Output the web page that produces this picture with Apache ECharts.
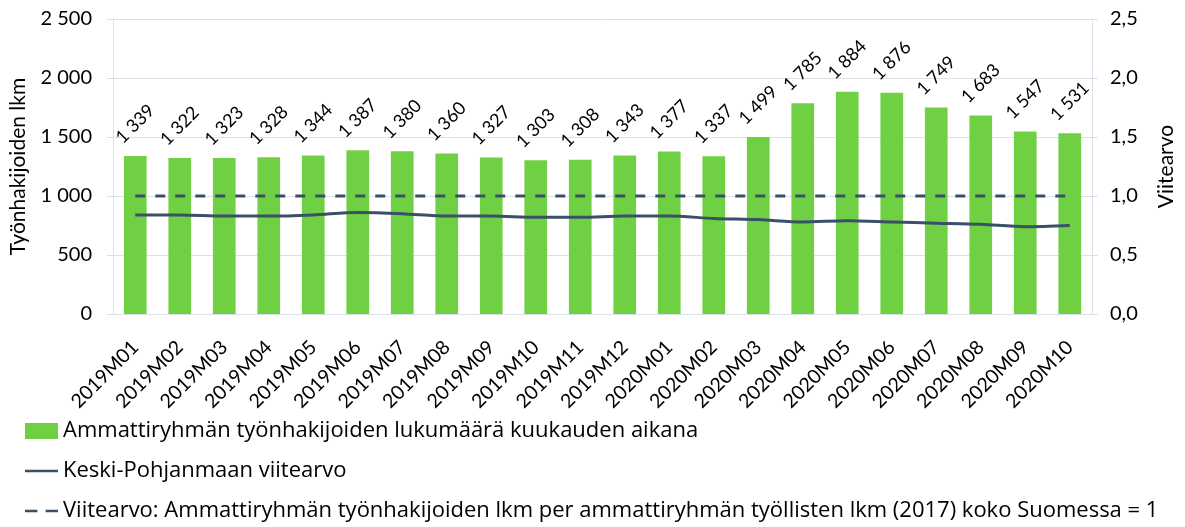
<!DOCTYPE html>
<html>
<head>
<meta charset="utf-8">
<script src="https://cdn.jsdelivr.net/npm/echarts@6/dist/echarts.min.js"></script>
<style>
  html, body { margin: 0; padding: 0; background: #fff; }
  #chart { width: 1185px; height: 527px; }
</style>
</head>
<body>
<div id="chart"></div>
<script>
var months = ['2019M01', '2019M02', '2019M03', '2019M04', '2019M05', '2019M06', '2019M07', '2019M08',
    '2019M09', '2019M10', '2019M11', '2019M12', '2020M01', '2020M02', '2020M03', '2020M04',
    '2020M05', '2020M06', '2020M07', '2020M08', '2020M09', '2020M10'];
var jobSeekers = [1339, 1322, 1323, 1328, 1344, 1387, 1380, 1360, 1327, 1303, 1308, 1343,
    1377, 1337, 1499, 1785, 1884, 1876, 1749, 1683, 1547, 1531];
var regionRef = [0.84, 0.84, 0.83, 0.83, 0.84, 0.86, 0.85, 0.83, 0.83, 0.82, 0.82, 0.83,
    0.83, 0.81, 0.80, 0.78, 0.79, 0.78, 0.77, 0.76, 0.74, 0.75];
var nationalRef = months.map(function () { return 1; });

var names = {
    bar: 'Ammattiryhmän työnhakijoiden lukumäärä kuukauden aikana',
    region: 'Keski-Pohjanmaan viitearvo',
    national: 'Viitearvo: Ammattiryhmän työnhakijoiden lkm per ammattiryhmän työllisten lkm (2017) koko Suomessa = 1'
};

var font = 'Lato';
var legendFont = 'Open Sans';
var green = '#70d044';
var navy = '#3a5068';
var gridColor = '#d9e1ea';

var fmtThousands = function (v) {
    return String(v).replace(/\B(?=(\d{3})+(?!\d))/g, ' ');
};

var myChart = echarts.init(document.getElementById('chart'));
var option = {
    animation: false,
    textStyle: { fontFamily: font, color: '#000' },
    grid: { left: 110, right: 85, top: 19, bottom: 213 },
    legend: {
        orient: 'vertical',
        left: 25,
        top: 419,
        padding: 0,
        itemGap: 16,
        itemWidth: 33,
        itemHeight: 16,
        textStyle: { fontFamily: legendFont, fontSize: 22, lineHeight: 24, color: '#000' },
        data: [
            { name: names.bar, icon: 'path://M0,0h33v16h-33z', itemStyle: { color: green } },
            { name: names.region, icon: 'path://M0,0h33v2.6h-33z', itemStyle: { color: navy } },
            { name: names.national, icon: 'path://M0,0h12v2.6h-12z M20,0h12v2.6h-12z', itemStyle: { color: navy } }
        ]
    },
    xAxis: {
        type: 'category',
        data: months,
        axisLine: { lineStyle: { color: gridColor, width: 1 } },
        axisTick: { show: false },
        axisLabel: { rotate: 45, fontSize: 19.5, color: '#000', fontFamily: font, margin: 30 }
    },
    yAxis: [
        {
            type: 'value',
            min: 0, max: 2500, interval: 500,
            name: 'Työnhakijoiden lkm',
            nameLocation: 'middle',
            nameGap: 84,
            nameTextStyle: { fontSize: 21, color: '#000', fontFamily: font },
            axisLine: { show: true, lineStyle: { color: gridColor } },
            axisTick: { show: true, length: 6, lineStyle: { color: gridColor } },
            splitLine: { lineStyle: { color: gridColor } },
            axisLabel: { fontSize: 20, color: '#000', margin: 21, formatter: fmtThousands }
        },
        {
            type: 'value',
            min: 0, max: 2.5, interval: 0.5,
            name: 'Viitearvo',
            nameLocation: 'middle',
            nameGap: 64,
            nameTextStyle: { fontSize: 21, color: '#000', fontFamily: font },
            axisLine: { show: true, lineStyle: { color: gridColor } },
            axisTick: { show: true, length: 6, lineStyle: { color: gridColor } },
            splitLine: { show: false },
            axisLabel: {
                fontSize: 20, color: '#000', margin: 18,
                formatter: function (v) { return v.toFixed(1).replace('.', ','); }
            }
        }
    ],
    series: [
        {
            name: names.bar,
            type: 'bar',
            data: jobSeekers,
            barWidth: '51%',
            itemStyle: { color: green },
            label: {
                show: true,
                position: 'top',
                distance: 32,
                rotate: 45,
                align: 'center',
                verticalAlign: 'middle',
                fontSize: 18,
                color: '#000',
                fontFamily: font,
                formatter: function (p) { return fmtThousands(p.value); }
            }
        },
        {
            name: names.region,
            type: 'line',
            yAxisIndex: 1,
            data: regionRef,
            smooth: 0.3,
            symbol: 'none',
            lineStyle: { color: navy, width: 3 },
            itemStyle: { color: navy }
        },
        {
            name: names.national,
            type: 'line',
            yAxisIndex: 1,
            data: nationalRef,
            symbol: 'none',
            lineStyle: { color: navy, width: 3, type: [10, 10] },
            itemStyle: { color: navy }
        }
    ]
};
myChart.setOption(option);
</script>
</body>
</html>
